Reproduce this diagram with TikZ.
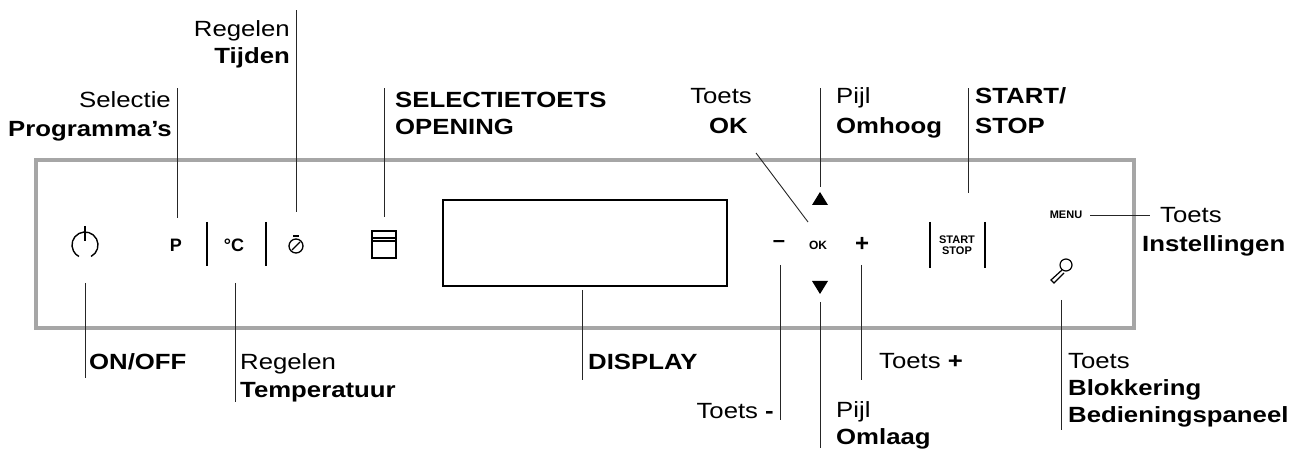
\documentclass[tikz,border=0pt]{standalone}
\usepackage{fontspec}
\setmainfont[FakeStretch=1.17]{Liberation Sans}
\newfontfamily\iconfont{Liberation Sans}
\begin{document}
\begin{tikzpicture}[x=1pt,y=-1pt,
  lbl/.style={inner sep=0pt,font=\fontsize{22}{26}\selectfont},
  blbl/.style={lbl,font=\fontsize{22}{26}\selectfont\bfseries},
  lead/.style={line width=0.9pt,black!85},
  bar/.style={line width=2.2pt},
  ic/.style={inner sep=0pt,font=\iconfont\bfseries}]
\useasboundingbox (0,0) rectangle (1312,454);
\draw[line width=4pt,black!35] (36,160) rectangle (1134,328);
% icons
\node[ic,minimum size=28pt] (onoff) at (85,245) {};
\draw[line width=1.4pt] (85,245) ++(62:13) arc (62:-242:13);
\draw[line width=1.4pt] (85,226) -- (85,241);
\node[ic,font=\fontsize{18}{18}\selectfont\iconfont\bfseries] (p) at (176,245) {P};
\draw[bar] (207,222) -- (207,266);
\node[ic,font=\fontsize{18}{18}\selectfont\iconfont\bfseries] (c) at (234,245) {°C};
\draw[bar] (266,222) -- (266,266);
\node[ic,minimum size=16pt] (timer) at (296,244) {};
\draw[line width=1.3pt] (296,246) circle (7);
\draw[line width=1.3pt] (292,250) -- (300,242);
\draw[line width=1.3pt] (293,236) -- (299,236);
\node[ic,minimum width=24pt,minimum height=26pt] (win) at (384,244) {};
\draw[line width=1.8pt] (372,231) rectangle (396,258);
\draw[line width=1.8pt] (372,238) -- (396,238);
\draw[line width=1.8pt] (372,241) -- (396,241);
\node[draw,line width=1.3pt,minimum width=284pt,minimum height=86pt,inner sep=0pt] (disp) at (585,243) {};
\node[ic,font=\fontsize{22}{22}\selectfont\iconfont\bfseries] (minus) at (779,244) {–};
\node[ic,font=\fontsize{12}{12}\selectfont\iconfont\bfseries] (ok) at (818,245) {OK};
\node[ic,font=\fontsize{24}{24}\selectfont\iconfont\bfseries] (plus) at (862,244) {+};
\fill (812,205) -- (828,205) -- (820,192) -- cycle;
\fill (812,281) -- (828,281) -- (820,294) -- cycle;
\coordinate (up) at (820,187);
\coordinate (dn) at (820,302);
\draw[bar,line width=1.8pt] (930,222) -- (930,268);
\draw[bar,line width=1.8pt] (985,222) -- (985,268);
\node[ic,align=center,font=\fontsize{11}{11}\selectfont\iconfont\bfseries] (ss) at (957,245) {START\\STOP};
\node[ic,font=\fontsize{11}{11}\selectfont\iconfont\bfseries] (menu) at (1066,215) {MENU};
\node[ic,minimum size=22pt] (key) at (1060,270) {};
\draw[line width=1.2pt] (1066,265) circle (6);
\draw[line width=1.2pt] (1062,270) -- (1051,280) -- (1054,283) -- (1064,273);
% labels
\node[lbl,anchor=base east] (sel) at (171,108) {Selectie};
\node[blbl,anchor=base east] (prog) at (172,137) {Programma's};
\node[lbl,anchor=base east] (reg1) at (290,37) {Regelen};
\node[blbl,anchor=base east] (tij) at (290,64) {Tijden};
\node[blbl,anchor=base west] (sel2) at (395,108) {SELECTIETOETS};
\node[blbl,anchor=base west] (open) at (395,135) {OPENING};
\node[lbl,anchor=base east] (toetsok) at (752,104) {Toets};
\node[blbl,anchor=base east] (okl) at (748,134) {OK};
\node[lbl,anchor=base west] (pijl1) at (836,104) {Pijl};
\node[blbl,anchor=base west] (omh) at (836,134) {Omhoog};
\node[blbl,anchor=base west] (st) at (975,104) {START/};
\node[blbl,anchor=base west] (stop) at (975,134) {STOP};
\node[lbl,anchor=base west] (t1) at (1160,223) {Toets};
\node[blbl,anchor=base west] (inst) at (1142,252) {Instellingen};
\node[blbl,anchor=base west] (onl) at (89,370) {ON/OFF};
\node[lbl,anchor=base west] (reg2) at (240,370) {Regelen};
\node[blbl,anchor=base west] (temp) at (240,397) {Temperatuur};
\node[blbl,anchor=base west] (displ) at (588,370) {DISPLAY};
\node[lbl,anchor=base west] (tplus) at (879,368) {Toets \textbf{+}};
\node[lbl,anchor=base east] (tmin) at (774,418) {Toets \textbf{-}};
\node[lbl,anchor=base west] (pijl2) at (836,417) {Pijl};
\node[blbl,anchor=base west] (oml) at (836,444) {Omlaag};
\node[lbl,anchor=base west] (t2) at (1068,368) {Toets};
\node[blbl,anchor=base west] (blok) at (1068,395) {Blokkering};
\node[blbl,anchor=base west] (bed) at (1068,422) {Bedieningspaneel};
% leaders
\draw[lead] (85,283) -- (85,378);
\draw[lead] (177,218) -- (177,88);
\draw[lead] (235,283) -- (235,402);
\draw[lead] (296,212) -- (296,10);
\draw[lead] (384,217) -- (384,88);
\draw[lead] (582,290) -- (582,380);
\draw[lead] (780,265) -- (780,420);
\draw[lead] (808,222) -- (756,153);
\draw[lead] (up) -- (820,88);
\draw[lead] (dn) -- (820,448);
\draw[lead] (861,265) -- (861,380);
\draw[lead] (968,193) -- (968,88);
\draw[lead] (1090,215) -- (1150,215);
\draw[lead] (1061,300) -- (1061,430);
\end{tikzpicture}
\end{document}
